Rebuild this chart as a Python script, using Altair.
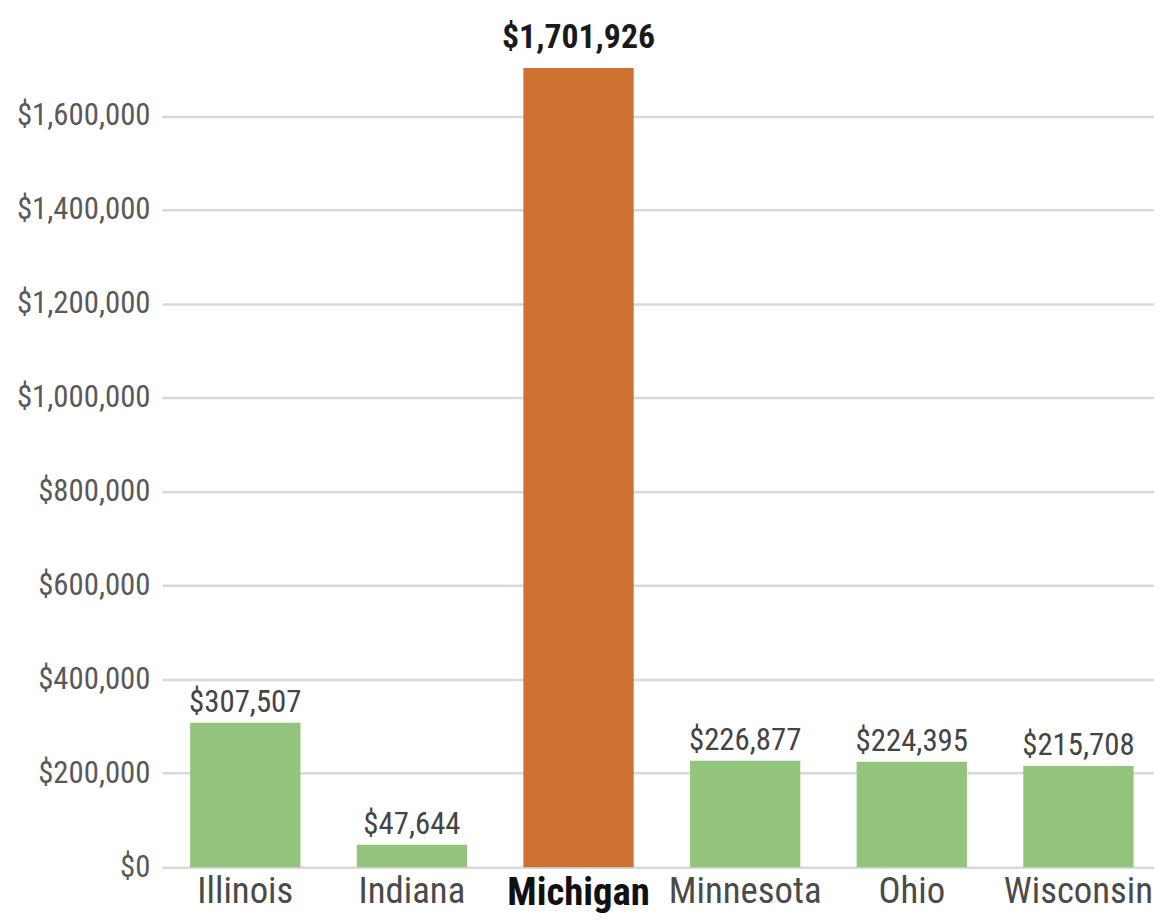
import altair as alt
import pandas as pd

states = ["Illinois", "Indiana", "Michigan", "Minnesota", "Ohio", "Wisconsin"]
amounts = [307507, 47644, 1701926, 226877, 224395, 215708]
groups = ["other", "other", "Michigan", "other", "other", "other"]
y_ticks = [0, 200000, 400000, 600000, 800000, 1000000, 1200000, 1400000, 1600000]

df = pd.DataFrame({"state": states, "amount": amounts, "group": groups})

FONT = "Roboto Condensed, Liberation Sans Narrow, DejaVu Sans Condensed, sans-serif"

x_enc = alt.X(
    "state:N",
    sort=states,
    title=None,
    scale=alt.Scale(paddingInner=0.338, paddingOuter=0.146, align=0.58),
    axis=alt.Axis(
        labelAngle=0,
        labelFont=FONT,
        labelFontSize=alt.ExprRef(expr="datum.value === 'Michigan' ? 39 : 37"),
        labelLimit=0,
        labelColor=alt.ExprRef(expr="datum.value === 'Michigan' ? '#111111' : '#4a4a4a'"),
        labelFontWeight=alt.ExprRef(expr="datum.value === 'Michigan' ? 'bold' : 'normal'"),
        ticks=False,
        tickSize=0,
        domain=False,
        grid=False,
        labelPadding=7,
        labelBaseline="top",
    ),
)

y_enc = alt.Y(
    "amount:Q",
    title=None,
    scale=alt.Scale(domain=[0, 1800000], nice=False),
    axis=alt.Axis(
        values=y_ticks,
        format="$,.0f",
        ticks=False,
        tickSize=0,
        domain=False,
        labelFont=FONT,
        labelFontSize=31,
        labelLimit=0,
        labelColor="#595959",
        labelPadding=12,
        gridColor="#d9d9d9",
        gridWidth=2.5,
    ),
)

base = alt.Chart(df)

bars = base.mark_bar().encode(
    x=x_enc,
    y=y_enc,
    color=alt.Color(
        "group:N",
        scale=alt.Scale(domain=["other", "Michigan"], range=["#93c47d", "#cf7130"]),
        legend=None,
    ),
)

labels = base.transform_filter(alt.datum.group == "other").mark_text(
    font=FONT, fontSize=31, color="#444444", dy=-11, baseline="alphabetic"
).encode(x=x_enc, y=y_enc, text=alt.Text("amount:Q", format="$,.0f"))

top_label = base.transform_filter(alt.datum.group == "Michigan").mark_text(
    font=FONT, fontSize=34, fontWeight="bold", color="#1a1a1a", dy=-20, baseline="alphabetic"
).encode(x=x_enc, y=y_enc, text=alt.Text("amount:Q", format="$,.0f"))

chart = (
    alt.layer(bars, labels, top_label)
    .properties(
        width=999,
        height=851,
        autosize=alt.AutoSizeParams(type="none"),
        padding={"left": 155, "top": 11, "right": 0, "bottom": 46},
    )
    .configure_view(stroke=None)
)

chart.save("out.html", embed_options={"renderer": "svg", "actions": False})
